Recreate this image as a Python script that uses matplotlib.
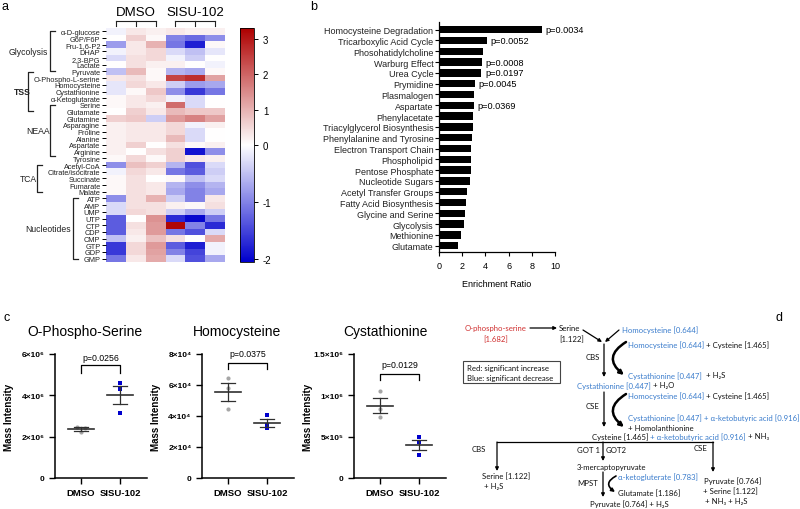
import numpy as np, matplotlib
matplotlib.use("Agg")
import matplotlib.pyplot as plt
from matplotlib.colors import LinearSegmentedColormap, TwoSlopeNorm
from matplotlib.patches import FancyArrowPatch, Rectangle

plt.rcParams['font.family'] = ['Liberation Sans', 'DejaVu Sans']
plt.rcParams['axes.unicode_minus'] = False

# ---------------- data ----------------
METABOLITES = ['α-D-glucose', 'G6P/F6P', 'Fru-1,6-P2', 'DHAP', '2,3-BPG', 'Lactate', 'Pyruvate',
               'O-Phospho-L-serine', 'Homocysteine', 'Cystathionine', 'α-Ketoglutarate',
               'Serine', 'Glutamate', 'Glutamine', 'Asparagine', 'Proline', 'Alanine', 'Aspartate',
               'Arginine', 'Tyrosine', 'Acetyl-CoA', 'Citrate/isocitrate', 'Succinate', 'Fumarate',
               'Malate', 'ATP', 'AMP', 'UMP', 'UTP', 'CTP', 'CDP', 'CMP', 'GTP', 'GDP', 'GMP']
# z-scores, columns: DMSO x3, SISU-102 x3
HEAT = np.array([
    [-0.1, 0.3, 0.2, 0.3, 0.2, 0.2],
    [0.0, 0.6, 0.1, -1.0, -1.2, -0.9],
    [-0.8, 0.3, 1.0, -1.1, -1.8, 0.1],
    [-0.1, 0.3, 0.5, -0.3, -0.5, -0.2],
    [-0.3, 0.4, 0.5, -0.1, -0.4, 0.0],
    [0.0, 0.4, 0.2, 0.2, 0.0, -0.1],
    [-0.5, 0.9, 0.1, -0.6, -0.7, 0.1],
    [0.3, 0.4, 0.1, 2.4, 2.7, 1.2],
    [-0.2, 0.5, 0.3, -0.4, -0.8, -0.7],
    [-0.2, 0.1, 0.7, -0.9, -1.6, -1.1],
    [0.1, 0.3, 0.5, -0.1, -0.3, 0.0],
    [0.1, 0.3, 0.2, 1.9, -0.3, 0.0],
    [0.0, 0.6, 0.3, 0.9, 0.7, 0.7],
    [0.6, 0.7, -0.4, 1.3, 1.6, 1.2],
    [0.2, 0.3, 0.3, 0.5, -0.1, 0.2],
    [0.2, 0.3, 0.3, 0.5, -0.3, 0.0],
    [0.2, 0.3, 0.3, 0.9, -0.3, 0.0],
    [0.2, 0.6, 0.0, 0.4, 0.1, 0.2],
    [0.2, 0.0, 0.4, 0.6, -1.9, -0.9],
    [0.1, 0.5, 0.1, 0.6, 0.3, 0.2],
    [-0.9, 0.8, 0.6, -0.6, -1.4, -0.3],
    [-0.1, 0.5, 0.3, -1.1, -1.3, -0.4],
    [0.1, 0.4, 0.0, 0.1, -0.5, -0.3],
    [0.1, 0.4, 0.3, -0.6, -0.9, -0.6],
    [0.1, 0.4, 0.3, -0.7, -1.0, -0.7],
    [-0.9, 0.4, 1.0, -0.4, -1.0, 0.3],
    [-0.3, 0.4, 0.4, 0.2, 0.1, 0.4],
    [-0.3, 0.5, 0.4, -0.4, -0.7, -0.4],
    [-1.3, 0.0, 1.4, -1.7, -2.0, -1.1],
    [-1.3, 0.4, 1.3, 3.2, -1.0, -1.7],
    [-1.3, 0.3, 1.3, -1.1, -1.4, -0.3],
    [-0.5, 0.2, 0.8, 0.4, 0.0, 1.1],
    [-1.6, 0.5, 1.3, -1.3, -1.8, -0.1],
    [-1.6, 0.5, 1.2, -1.0, -1.5, -0.1],
    [-1.1, 0.3, 1.1, -0.3, -1.4, -0.7],
])
GROUP_NAMES = ['Glycolysis', 'TSS', 'NEAA', 'TCA', 'Nucleotides']
GROUP_SPAN = [(0, 6), (6.1, 11.9), (11, 18.6), (20, 24), (25, 34)]   # row index spans of brackets
CONDITIONS = ['DMSO', 'SISU-102']

PATHWAYS = ['Homocysteine Degradation', 'Tricarboxylic Acid Cycle', 'Phosohatidylcholine',
            'Warburg Effect', 'Urea Cycle', 'Prymidine', 'Plasmalogen', 'Aspartate',
            'Phenylacetate', 'Triacylglycerol Biosynthesis', 'Phenylalanine and Tyrosine',
            'Electron Transport Chain', 'Phospholipid', 'Pentose Phosphate', 'Nucleotide Sugars',
            'Acetyl Transfer Groups', 'Fatty Acid Biosynthesis', 'Glycine and Serine',
            'Glycolysis', 'Methionine', 'Glutamate']
ENRICH = [8.9, 4.17, 3.8, 3.7, 3.66, 3.14, 3.06, 3.03, 2.94, 2.94, 2.86, 2.8, 2.74, 2.74,
          2.66, 2.43, 2.29, 2.26, 2.14, 1.86, 1.63]
PVALS = {'Homocysteine Degradation': '0.0034', 'Tricarboxylic Acid Cycle': '0.0052',
         'Warburg Effect': '0.0008', 'Urea Cycle': '0.0197', 'Prymidine': '0.0045',
         'Aspartate': '0.0369'}

SCATTER_TITLES = ['O-Phospho-Serine', 'Homocysteine', 'Cystathionine']
DMSO_VALS = [[2.45e6, 2.22e6, 2.44e6], [6.45e4, 5.8e4, 4.45e4], [1.05e6, 0.84e6, 0.74e6]]
SISU_VALS = [[4.6e6, 4.3e6, 3.15e6], [4.08e4, 3.45e4, 3.2e4], [0.49e6, 0.43e6, 0.28e6]]
P_C = ['0.0256', '0.0375', '0.0129']
YTICKS = [[0, 2e6, 4e6, 6e6], [0, 2e4, 4e4, 6e4, 8e4], [0, 5e5, 1e6, 1.5e6]]
YTICKLABELS = [['0', '2×10⁶', '4×10⁶', '6×10⁶'], ['0', '2×10⁴', '4×10⁴', '6×10⁴', '8×10⁴'],
               ['0', '5×10⁵', '1×10⁶', '1.5×10⁶']]

# ---------------- layout ----------------
fig = plt.figure(figsize=(8, 5.1), dpi=100)
W, H = 800, 510

def add_ax(l, t, r, b):
    return fig.add_axes([l / W, 1 - b / H, (r - l) / W, (b - t) / H])

ov = fig.add_axes([0, 0, 1, 1], zorder=5)
ov.set_xlim(0, W); ov.set_ylim(H, 0); ov.axis('off')

# ---------------- a: heatmap ----------------
HX0, HX1, HY0, HY1 = 106, 225, 29, 263
axh = add_ax(HX0, HY0, HX1, HY1)
cmap = LinearSegmentedColormap.from_list('bwr2', ['#0000cd', '#ffffff', '#ae0000'])
norm = TwoSlopeNorm(vmin=-2.05, vcenter=0, vmax=3.3)
nrow, ncol = HEAT.shape
mesh = axh.pcolormesh(np.arange(ncol + 1), np.arange(nrow + 1), HEAT, cmap=cmap, norm=norm)
axh.set_xlim(0, ncol); axh.set_ylim(nrow, 0)
axh.set_xticks([])
axh.set_yticks(np.arange(nrow) + 0.5)
axh.set_yticklabels(METABOLITES, fontsize=5.3, color='#222')
axh.tick_params(axis='y', length=3, width=0.7, pad=1)
for s in axh.spines.values():
    s.set_visible(False)

cax = add_ax(240, HY0, 254, HY1)
cb = fig.colorbar(mesh, cax=cax, ticks=[-2, -1, 0, 1, 2, 3])
cb.ax.tick_params(labelsize=7, length=3, width=0.7)
cb.outline.set_linewidth(0.6)

row_h = (HY1 - HY0) / nrow
col_w = (HX1 - HX0) / ncol
def row_y(r):
    return HY0 + (r + 0.5) * row_h
def col_x(c):
    return HX0 + (c + 0.5) * col_w

bracket_x = [50, 28, 50, 37, 73]
label_x = [28, 22, 38, 28, 48]
for name, (r0, r1), bx, lx in zip(GROUP_NAMES, GROUP_SPAN, bracket_x, label_x):
    y0, y1 = row_y(r0), row_y(r1)
    ov.plot([bx + 5, bx, bx, bx + 5], [y0, y0, y1, y1], color='#222', lw=0.9)
    ov.text(lx, (y0 + y1) / 2, name, ha='center', va='center', fontsize=6.2,
            color='#222', fontweight='bold' if name == 'TSS' else 'normal')

for g, cond in enumerate(CONDITIONS):
    xs = [col_x(3 * g + k) for k in range(3)]
    ov.text(np.mean(xs), 13, cond, ha='center', va='center', fontsize=9.5)
    ov.plot([xs[0], xs[-1]], [21.7, 21.7], color='#222', lw=0.8)
    for x in xs:
        ov.plot([x, x], [21.7, 26.7], color='#222', lw=0.8)

# ---------------- b: enrichment ----------------
axb = add_ax(439, 22.7, 555, 253.3)
yb = np.arange(len(PATHWAYS))
axb.barh(yb, ENRICH, height=0.68, color='black')
axb.set_ylim(len(PATHWAYS) - 0.39, -0.74)
axb.set_xlim(0, 10)
axb.set_yticks(yb)
axb.set_yticklabels(PATHWAYS, fontsize=6.5, color='#222')
axb.set_xticks(range(0, 11, 2))
axb.tick_params(axis='x', labelsize=6.5, length=3, width=0.8)
axb.tick_params(axis='y', length=3, width=0.8, pad=1)
axb.set_xlabel('Enrichment Ratio', fontsize=6.5, labelpad=6)
for s in ['top', 'right']:
    axb.spines[s].set_visible(False)
for s in ['left', 'bottom']:
    axb.spines[s].set_linewidth(0.9)
for i, name in enumerate(PATHWAYS):
    if name in PVALS:
        axb.text(ENRICH[i] + 0.3, i, 'p=' + PVALS[name], va='center', fontsize=6.6)

# ---------------- c: scatter ----------------
c_left = [55, 202, 354]
bracket_frac = [(0.91, 0.85, 0.973), (0.93, 0.88, 1.0), (0.84, 0.787, 0.913)]
title_x = [0.33, 0.38, 0.34]
jit = [[-0.1, 0.0, 0.1], [0.0, 0.0, 0.0], [0.0, 0.0, 0.0]]
for k in range(3):
    ax = add_ax(c_left[k], 355, c_left[k] + 92, 479)
    ymax = YTICKS[k][-1]
    for g, (vals, col, mk) in enumerate([(DMSO_VALS[k], '#a6a6a6', 'o'),
                                          (SISU_VALS[k], '#0000cc', 's')]):
        v = np.array(vals)
        off = jit[k] if g == 0 else [0, 0, 0]
        ax.scatter(g + np.array(off), v, s=9, marker=mk, color=col, zorder=3, linewidths=0)
        m = v.mean(); se = v.std(ddof=1) / np.sqrt(len(v))
        ax.plot([g - 0.33, g + 0.33], [m, m], color='#303030', lw=1.2, zorder=4)
        ax.plot([g, g], [m - se, m + se], color='#303030', lw=0.9, zorder=4)
        for yy in (m - se, m + se):
            ax.plot([g - 0.17, g + 0.17], [yy, yy], color='#303030', lw=0.9, zorder=4)
    ax.set_xlim(-0.67, 1.69)
    ax.set_ylim(0, ymax)
    ax.set_yticks(YTICKS[k])
    ax.set_yticklabels(YTICKLABELS[k], fontsize=6, fontweight='bold')
    ax.set_xticks([0, 1])
    ax.set_xticklabels(CONDITIONS, fontsize=6.8, fontweight='bold')
    ax.tick_params(length=4, width=1)
    for s in ['top', 'right']:
        ax.spines[s].set_visible(False)
    for s in ['left', 'bottom']:
        ax.spines[s].set_linewidth(1.1)
    ax.set_ylabel('Mass Intensity', fontsize=7, fontweight='bold')
    ax.yaxis.set_label_coords(-0.45, 0.5)
    ft, fb, fp = bracket_frac[k]
    ax.plot([0, 0, 1, 1], [fb * ymax, ft * ymax, ft * ymax, fb * ymax], color='black',
            lw=0.9, clip_on=False)
    ax.text(0.5, fp * ymax, 'p=' + P_C[k], ha='center', va='center', fontsize=6.3)
    ax.text(title_x[k], 1.185, SCATTER_TITLES[k], transform=ax.transAxes, ha='center',
            va='center', fontsize=10)

# ---------------- d: pathway ----------------
BLUE, RED, BLK = '#3a7ccc', '#d03030', '#111111'
DF = ['Lato', 'DejaVu Sans']
FS = 5.6
renderer = fig.canvas.get_renderer()

def seg(x, y, parts, fs=FS):
    for s, c in parts:
        t = ov.text(x, y, s, color=c, fontsize=fs, va='center', ha='left', family=DF)
        x += t.get_window_extent(renderer).width + fs * 1.39 * 0.25

def txt(x, y, s, c=BLK, ha='left'):
    ov.text(x, y, s, color=c, fontsize=FS, va='center', ha=ha, family=DF)

def arrow(p0, p1, lw=0.9, rad=0.0, ms=5):
    ov.add_patch(FancyArrowPatch(p0, p1, arrowstyle='-|>', mutation_scale=ms, lw=lw,
                                 color='black', connectionstyle=f'arc3,rad={rad}',
                                 shrinkA=0, shrinkB=0))

txt(496, 329, 'O-phospho-serine', RED, 'center')
txt(496, 340, '[1.682]', RED, 'center')
arrow((530, 329), (557, 329))
txt(559, 329, 'Serine')
txt(559, 340, '[1.122]')
txt(622, 330, 'Homocysteine [0.644]', BLUE)
arrow((583, 331), (602, 343))
arrow((619, 331), (605, 343))
arrow((604, 345), (604, 378))
txt(593, 358, 'CBS', ha='center')
arrow((626, 343), (624, 376), lw=1.8, rad=0.7, ms=6)
seg(628, 345, [('Homocysteine [0.644]', BLUE), ('+ Cysteine [1.465]', BLK)])
seg(628, 376, [('Cystathionine [0.447]', BLUE), (' + H₂S', BLK)])
ov.add_patch(Rectangle((463, 362), 97, 22, fill=False, lw=0.8, ec='#444'))
txt(467, 369, 'Red: significant increase')
txt(467, 379, 'Blue: significant decrease')
seg(577, 386, [('Cystathionine [0.447]', BLUE), ('+ H₂O', BLK)])
arrow((604, 393), (604, 428))
txt(593, 407, 'CSE', ha='center')
arrow((626, 395), (624, 428), lw=1.8, rad=0.7, ms=6)
seg(628, 396, [('Homocysteine [0.644]', BLUE), ('+ Cysteine [1.465]', BLK)])
txt(628, 418, 'Cystathionine [0.447] + α-ketobutyric acid [0.916]', BLUE)
txt(628, 429, '+ Homolanthionine')
seg(592, 437, [('Cysteine [1.465]', BLK), ('+ α-ketobutyric acid [0.916]', BLUE), ('+ NH₃', BLK)])
ov.plot([497, 713], [443, 443], color='black', lw=0.9)
arrow((497, 443), (497, 472))
arrow((603, 443), (603, 462))
arrow((713, 443), (713, 473))
txt(479, 450, 'CBS', ha='center')
txt(600, 451, 'GOT 1', ha='right')
txt(606, 451, 'GOT2')
txt(701, 449, 'CSE', ha='center')
txt(577, 468, '3-mercaptopyruvate')
arrow((603, 473), (603, 498))
txt(588, 484, 'MPST', ha='center')
arrow((616, 477), (615, 493), lw=1.2, rad=0.8, ms=5)
txt(618, 477, 'α-ketogluterate [0.783]', BLUE)
txt(618, 494, 'Glutamate [1.186]')
txt(590, 504, 'Pyruvate [0.764] + H₂S')
txt(482, 477, 'Serine [1.122]')
txt(484, 487, '+ H₂S')
txt(704, 481, 'Pyruvate [0.764]')
txt(703, 492, '+ Serine [1.122]')
txt(705, 502, '+ NH₃ + H₂S')

# panel letters
for lab, x, y in [('a', 5, 7), ('b', 314, 7), ('c', 7, 318), ('d', 779, 318)]:
    ov.text(x, y, lab, fontsize=9, ha='center', va='center')

fig.savefig('out.png', dpi=100)
